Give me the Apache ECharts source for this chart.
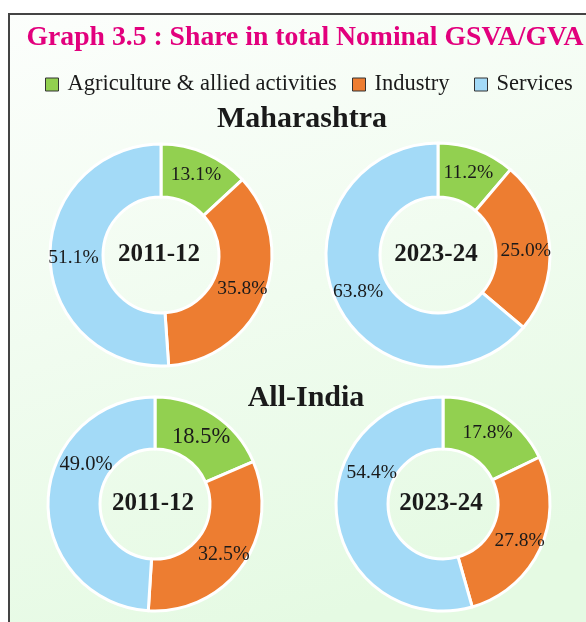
<!DOCTYPE html>
<html>
<head>
<meta charset="utf-8">
<title>Share in total Nominal GSVA/GVA</title>
<script src="https://cdn.jsdelivr.net/npm/echarts@6/dist/echarts.min.js"></script>
<style>
  html, body { margin: 0; padding: 0; background: #fff; }
  #chart { width: 586px; height: 622px; }
</style>
</head>
<body>
<div id="chart"></div>
<script>
// sectors, clockwise from 12 o'clock
var sectors = ['Agriculture & allied activities', 'Industry', 'Services'];
var colors = ['#92D050', '#ED7D31', '#A3DAF7'];

var years = ['2011-12', '2023-24'];
var mahaValues = [[13.1, 35.8, 51.1], [11.2, 25.0, 63.8]];
var indiaValues = [[18.5, 32.5, 49.0], [17.8, 27.8, 54.4]];

var serif = '"Liberation Serif", "Times New Roman", serif';

// donut layout: center, inner/outer r, label size and nudge per sector
var donuts = [
  { vals: mahaValues[0],  year: years[0], cx: 161, cy: 255, r: [58, 111],
    fs: [19.5, 19.5, 19.5], off: [[0, 0], [0, 2], [0, 0]] },
  { vals: mahaValues[1],  year: years[1], cx: 438, cy: 255, r: [58, 112],
    fs: [19.5, 19.5, 19.5], off: [[0, 0], [0, 3], [0, 0]] },
  { vals: indiaValues[0], year: years[0], cx: 155, cy: 504, r: [55, 107],
    fs: [22.5, 20, 20.5], off: [[0, 3], [0, 2], [15, -37]] },
  { vals: indiaValues[1], year: years[1], cx: 443, cy: 504, r: [55, 107],
    fs: [19.5, 19.5, 19.5], off: [[0, 0], [0, 3], [12, -43]] }
];

var chart = echarts.init(document.getElementById('chart'));

var series = donuts.map(function (d) {
  return {
    type: 'pie',
    center: [d.cx, d.cy],
    radius: d.r,
    startAngle: 90,
    clockwise: true,
    silent: true,
    avoidLabelOverlap: false,
    itemStyle: { borderColor: '#fff', borderWidth: 3 },
    label: {
      show: true,
      position: 'inside',
      formatter: function (p) { return p.value.toFixed(1) + '%'; },
      color: '#1a1a1a',
      fontFamily: serif
    },
    labelLine: { show: false },
    data: d.vals.map(function (v, i) {
      return { name: sectors[i], value: v, itemStyle: { color: colors[i] },
        label: { fontSize: d.fs[i], offset: d.off[i] } };
    })
  };
});

var titles = [
  { text: 'Graph 3.5 : Share in total Nominal GSVA/GVA', left: 305, top: 24,
    textAlign: 'center', padding: 0,
    textStyle: { color: '#E2007D', fontFamily: serif, fontWeight: 'bold', fontSize: 27.7 } },
  { text: 'Maharashtra', left: 302, top: 104, textAlign: 'center', padding: 0,
    textStyle: { color: '#1a1a1a', fontFamily: serif, fontWeight: 'bold', fontSize: 30 } },
  { text: 'All-India', left: 306, top: 383, textAlign: 'center', padding: 0,
    textStyle: { color: '#1a1a1a', fontFamily: serif, fontWeight: 'bold', fontSize: 30 } }
];
donuts.forEach(function (d) {
  titles.push({ text: d.year, left: d.cx - 2, top: d.cy - 13, textAlign: 'center', padding: 0,
    textStyle: { color: '#1a1a1a', fontFamily: serif, fontWeight: 'bold', fontSize: 25 } });
});

// one legend per entry to keep the uneven spacing
var legendLeft = [45, 352, 474];
var legends = sectors.map(function (s, i) {
  return {
    data: [s],
    left: legendLeft[i],
    top: 73,
    padding: 0,
    icon: 'rect',
    itemWidth: 13,
    itemHeight: 13,
    itemGap: 0,
    selectedMode: false,
    itemStyle: { borderColor: '#333', borderWidth: 1 },
    textStyle: { color: '#1a1a1a', fontFamily: serif, fontSize: 22.5, padding: [0, 0, 0, 4] }
  };
});

chart.setOption({
  animation: false,
  backgroundColor: '#fff',
  color: colors,
  graphic: [{
    type: 'rect',
    z: -10,
    shape: { x: 9, y: 14, width: 620, height: 640 },
    style: {
      fill: new echarts.graphic.LinearGradient(0, 0, 0.3, 1, [
        { offset: 0, color: '#FCFEFC' },
        { offset: 1, color: '#E5FAE3' }
      ]),
      stroke: '#444',
      lineWidth: 2
    }
  }],
  title: titles,
  legend: legends,
  series: series
});
</script>
</body>
</html>
